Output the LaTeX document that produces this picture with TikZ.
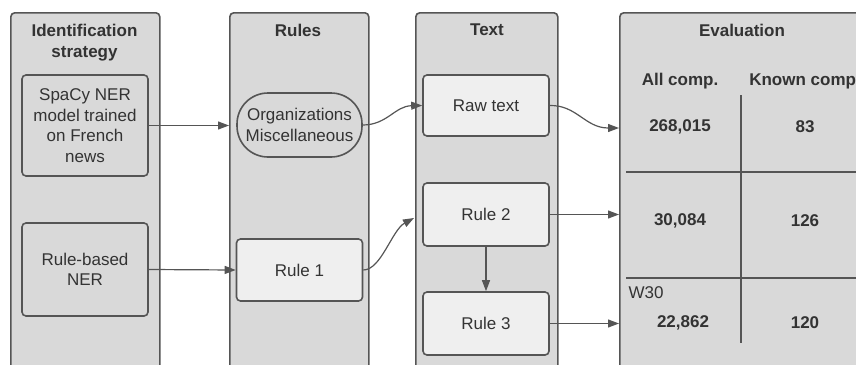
\documentclass[tikz,border=0pt]{standalone}
\usepackage{fontspec}
\setmainfont{Liberation Sans}
\usetikzlibrary{arrows.meta}
\definecolor{lanefill}{RGB}{217,217,217}
\definecolor{boxfill}{RGB}{239,239,239}
\definecolor{edge}{RGB}{85,85,85}
\definecolor{ink}{RGB}{51,51,51}
\begin{document}
\begin{tikzpicture}[x=1pt,y=-1pt,
  every node/.style={font=\fontsize{17}{20.5}\selectfont, text=ink},
  lane/.style={draw=edge, fill=lanefill, line width=1.6pt, rounded corners=4pt, anchor=north west, minimum height=420pt, inner sep=0pt},
  darkbox/.style={draw=edge, fill=lanefill, line width=1.6pt, rounded corners=4pt, minimum width=126pt, align=center, inner sep=0pt},
  lightbox/.style={draw=edge, fill=boxfill, line width=1.6pt, rounded corners=4pt, minimum width=126pt, minimum height=62pt, align=center, inner sep=0pt},
  title/.style={font=\fontsize{17}{20.5}\selectfont\bfseries, align=center},
  val/.style={font=\fontsize{17}{20.5}\selectfont\bfseries},
  conn/.style={draw=edge, line width=1.2pt, -{Triangle[length=11pt,width=8pt]}},
  gridline/.style={draw=edge, line width=1.6pt}]
\useasboundingbox (0,0) rectangle (856,364);
% lanes
\node[lane, minimum width=149pt] (lane1) at (10,12) {};
\node[lane, minimum width=139pt] (lane2) at (229,12) {};
\node[lane, minimum width=142pt] (lane3) at (415,12) {};
\node[lane, minimum width=300pt] (lane4) at (619,12) {};
% titles
\node[title] (t1) at (84.5,42.5) {Identification\\strategy};
\node[title] (t2) at (298,30) {Rules};
\node[title] (t3) at (487,30) {Text};
\node[title] (t4) at (742,30) {Evaluation};
% column 1
\node[darkbox, minimum height=101pt] (spacy) at (85,125.5) {SpaCy NER\\model trained\\on French\\news};
\node[darkbox, minimum height=93pt] (rbner) at (85,269.5) {Rule-based\\NER};
% column 2
\node[draw=edge, fill=lanefill, line width=1.6pt, rounded corners=31pt, minimum width=125pt, minimum height=64pt, align=center, inner sep=0pt] (orgmisc) at (299.5,125) {Organizations\\Miscellaneous};
\node[lightbox] (rule1) at (299.5,270) {Rule 1};
% column 3
\node[lightbox, minimum height=61pt] (raw) at (486,105.5) {Raw text};
\node[lightbox, minimum height=63pt] (rule2) at (486,214.5) {Rule 2};
\node[lightbox, minimum height=63pt] (rule3) at (486,323.5) {Rule 3};
% evaluation table
\node[val] (hall) at (680,81) {All comp.};
\node[val] (hknown) at (805,81) {Known comp.};
\draw[gridline] (741,95) -- (741,343);
\draw[gridline] (626,172) -- (870,172);
\draw[gridline] (626,278) -- (870,278);
\node[val] (v11) at (680,127) {268,015};
\node[val] (v12) at (805,127) {83};
\node[val] (v21) at (680,221) {30,084};
\node[val] (v22) at (805,221) {126};
\node[anchor=west] (w30) at (625,293) {W30};
\node[val] (v31) at (683,323) {22,862};
\node[val] (v32) at (805,323) {120};
% connector ends
\coordinate (e1) at (414,218);
\coordinate (e2) at (619,128);
% connectors
\draw[conn] (spacy.east) -- (spacy.east -| lane2.west);
\draw[conn] (rbner.east) -- (rule1.west);
\draw[conn] (orgmisc.east) .. controls (387,125) and (395,106) .. (raw.west);
\draw[conn] (rule1.east) .. controls (381,270) and (392,230) .. (e1);
\draw[conn] (raw.east) .. controls (577,105) and (585,128) .. (e2);
\draw[conn] (rule2.east) -- (rule2.east -| lane4.west);
\draw[conn] (rule3.east) -- (rule3.east -| lane4.west);
\draw[conn] (rule2.south) -- (rule3.north);
\end{tikzpicture}
\end{document}
